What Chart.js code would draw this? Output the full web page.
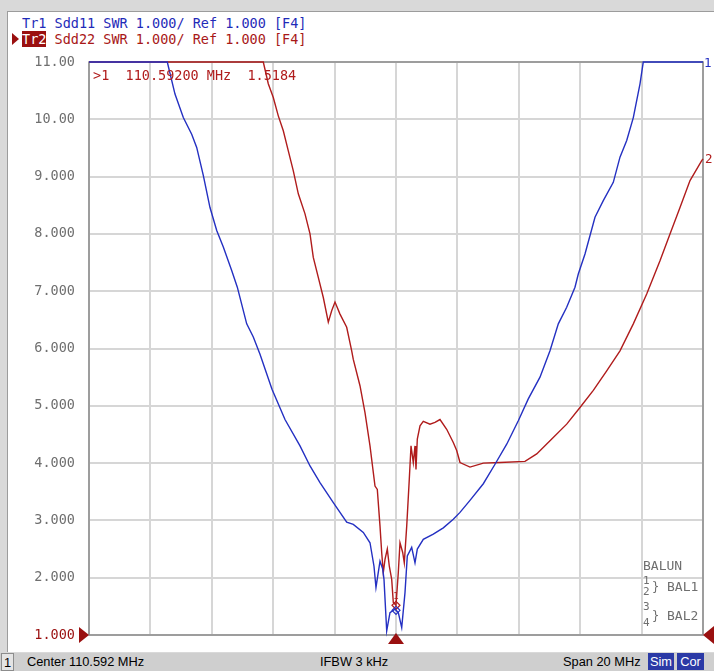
<!DOCTYPE html>
<html>
<head>
<meta charset="utf-8">
<script src="https://cdn.jsdelivr.net/npm/chart.js@4/dist/chart.umd.min.js"></script>
<style>
  html, body { margin: 0; padding: 0; }
  body { width: 714px; height: 671px; background: #d9d9d9; position: relative; overflow: hidden; }
  #panel { position: absolute; left: 7px; top: 11px; width: 707px; height: 641px; background: #ffffff;
           border-left: 1px solid #9c9c9c; border-top: 1px solid #9c9c9c; box-sizing: border-box; }
  #c { position: absolute; left: 0; top: 0; }
  .hdr { position: absolute; font-family: "DejaVu Sans Mono", monospace; font-size: 13.5px;
         line-height: 17px; white-space: pre; }
  #tr1 { left: 22px; top: 15px; color: #1f2bb8; }
  #tr2 { left: 22px; top: 31px; color: #a81818; }
  #tr2 .act { background: #9a1010; color: #ffffff; }
  #tri { position: absolute; left: 12px; top: 33px; width: 0; height: 0;
         border-top: 6.5px solid transparent; border-bottom: 6.5px solid transparent; border-left: 7px solid #9a1010; }
  #status { position: absolute; left: 0; top: 653px; width: 714px; height: 18px; background: #cfcfcf;
            font-family: "Liberation Sans", Arial, sans-serif; font-size: 12.8px; color: #000; }
  #status span { position: absolute; top: 0; line-height: 18px; white-space: pre; }
  #chn { left: 1px; width: 13px; text-align: center; border: 1px solid #8c8c8c; box-sizing: border-box; height: 18px; background: #e4e4e4; }
  .badge { background: #2b3aa6; color: #fff; text-align: center; height: 17px; }
</style>
</head>
<body>
<div id="panel"></div>
<div class="hdr" id="tr1">Tr1 Sdd11 SWR 1.000/ Ref 1.000 [F4]</div>
<div id="tri"></div>
<div class="hdr" id="tr2"><span class="act">Tr2</span> Sdd22 SWR 1.000/ Ref 1.000 [F4]</div>
<canvas id="c" width="714" height="671"></canvas>
<div id="status">
  <span id="chn">1</span>
  <span style="left:27px">Center 110.592 MHz</span>
  <span style="left:320px">IFBW 3 kHz</span>
  <span style="left:563px">Span 20 MHz</span>
  <span class="badge" style="left:648px;width:26px">Sim</span>
  <span class="badge" style="left:677px;width:27px">Cor</span>
</div>
<script>
// Sweep: 110.592 MHz centre, 20 MHz span, 2 MHz per division
const xGridMHz = [100.592, 102.592, 104.592, 106.592, 108.592, 110.592,
                  112.592, 114.592, 116.592, 118.592, 120.592];
const yTickLabels = ['1.000', '2.000', '3.000', '4.000', '5.000', '6.000',
                     '7.000', '8.000', '9.000', '10.00', '11.00'];

// Trace 1: Sdd11 SWR (values above the top of the scale are pinned at 11)
const sdd11Freq = [100.592, 103.142, 103.393, 103.664, 103.937, 104.100, 104.315, 104.533, 104.752, 104.967,
  105.240, 105.423, 105.729, 105.944, 106.162, 106.553, 106.976, 107.465, 107.791, 108.116,
  108.550, 108.986, 109.201, 109.527, 109.745, 109.875, 109.940, 110.071, 110.159, 110.201,
  110.289, 110.396, 110.559, 110.667, 110.778, 110.885, 110.960, 111.103, 111.211, 111.286,
  111.481, 111.807, 112.133, 112.458, 112.677, 113.002, 113.436, 113.817, 114.198, 114.576,
  114.901, 115.282, 115.608, 115.879, 116.152, 116.422, 116.530, 116.748, 117.074, 117.344,
  117.670, 117.888, 118.107, 118.322, 118.540, 118.647, 120.592];
const sdd11Swr = [11.00, 11.00, 10.44, 10.03, 9.74, 9.51, 9.02, 8.46, 8.06, 7.77,
  7.36, 7.07, 6.43, 6.20, 5.90, 5.29, 4.76, 4.30, 3.95, 3.66,
  3.31, 2.97, 2.93, 2.79, 2.61, 2.20, 1.83, 2.29, 2.15, 1.97,
  1.07, 1.39, 1.45, 1.39, 1.13, 1.74, 2.38, 2.53, 2.26, 2.50,
  2.67, 2.76, 2.87, 3.02, 3.14, 3.35, 3.64, 3.98, 4.33, 4.74,
  5.12, 5.50, 5.96, 6.43, 6.72, 7.07, 7.30, 7.65, 8.29, 8.58,
  8.90, 9.34, 9.63, 10.03, 10.62, 11.00, 11.00];

// Trace 2: Sdd22 SWR
const sdd22Freq = [100.592, 106.269, 106.432, 106.595, 106.758, 106.921, 107.084, 107.247, 107.410, 107.628,
  107.791, 107.898, 108.061, 108.224, 108.387, 108.497, 108.605, 108.768, 108.986, 109.149,
  109.201, 109.419, 109.582, 109.745, 109.908, 109.983, 110.071, 110.126, 110.178, 110.234,
  110.309, 110.374, 110.452, 110.504, 110.592, 110.667, 110.722, 110.810, 110.862, 110.941,
  111.025, 111.081, 111.156, 111.211, 111.243, 111.286, 111.374, 111.481, 111.699, 111.862,
  112.025, 112.243, 112.458, 112.569, 112.677, 113.002, 113.436, 113.980, 114.794, 115.175,
  115.608, 116.152, 116.585, 117.019, 117.455, 117.888, 118.322, 118.758, 119.191, 119.517,
  119.843, 120.169, 120.550, 120.592];
const sdd22Swr = [11.00, 11.00, 10.62, 10.38, 10.06, 9.80, 9.45, 9.10, 8.70, 8.35,
  8.00, 7.59, 7.24, 6.89, 6.46, 6.66, 6.81, 6.60, 6.37, 5.96,
  5.81, 5.35, 4.88, 4.30, 3.60, 3.54, 2.90, 2.44, 2.09, 2.32,
  2.50, 2.20, 1.97, 1.57, 1.5184, 2.09, 2.61, 2.44, 2.26, 2.90,
  3.72, 4.30, 4.01, 4.30, 3.89, 4.42, 4.65, 4.73, 4.68, 4.71,
  4.76, 4.59, 4.36, 4.22, 4.01, 3.93, 4.00, 4.01, 4.03, 4.16,
  4.39, 4.68, 4.97, 5.27, 5.61, 5.96, 6.43, 6.95, 7.53, 8.00,
  8.46, 8.93, 9.28, 9.31];

// Marker 1 (shared by both traces)
const markerFreq = 110.592;
const marker1Sdd22 = sdd22Swr[sdd22Freq.indexOf(markerFreq)];
const marker1Sdd11 = 1.43;

const BLUE = '#2430c2';
const RED = '#b01c1c';
const DARKRED = '#9a1010';
const GREY_TXT = '#6f6f6f';
const MONO = '"DejaVu Sans Mono", monospace';

const toXY = (xs, ys) => xs.map((x, i) => ({ x: x, y: ys[i] }));

const overlay = {
  id: 'vnaOverlay',
  beforeDatasetsDraw(chart) {
    const a = chart.chartArea, ctx = chart.ctx;
    ctx.save();
    ctx.strokeStyle = '#8a8a8a';
    ctx.lineWidth = 1.5;
    ctx.strokeRect(a.left, a.top, a.right - a.left, a.bottom - a.top);
    ctx.restore();
  },
  afterDatasetsDraw(chart) {
    const a = chart.chartArea, ctx = chart.ctx;
    const xs = chart.scales.x, ys = chart.scales.y;
    ctx.save();

    // marker readout
    ctx.font = '13.5px ' + MONO;
    ctx.fillStyle = RED;
    ctx.textBaseline = 'alphabetic';
    ctx.textAlign = 'left';
    ctx.fillText('>1  ' + markerFreq.toFixed(5) + ' MHz  ' + marker1Sdd22.toFixed(4), a.left + 4, 80);

    // trace numbers at the right end of each trace
    ctx.font = '12.5px ' + MONO;
    ctx.fillStyle = BLUE;
    ctx.fillText('1', a.right + 1, ys.getPixelForValue(sdd11Swr[sdd11Swr.length - 1]) + 5);
    ctx.fillStyle = RED;
    ctx.fillText('2', a.right + 2, ys.getPixelForValue(sdd22Swr[sdd22Swr.length - 1]) + 4);

    // small marker index
    ctx.font = '9px ' + MONO;
    ctx.fillStyle = RED;
    ctx.textAlign = 'center';
    ctx.fillText('1', xs.getPixelForValue(markerFreq), ys.getPixelForValue(marker1Sdd22) - 6);

    // balun topology note
    ctx.textAlign = 'left';
    ctx.fillStyle = GREY_TXT;
    ctx.font = '13px ' + MONO;
    ctx.fillText('BALUN', 643, 570);
    ctx.fillText('BAL1', 667, 591);
    ctx.fillText('BAL2', 667, 620);
    ctx.font = '11px ' + MONO;
    ctx.fillText('1', 643, 584);
    ctx.fillText('2', 643, 595);
    ctx.fillText('3', 643, 610);
    ctx.fillText('4', 643, 626);
    ctx.font = '12px ' + MONO;
    ctx.fillText('}', 652, 591);
    ctx.fillText('}', 652, 620);

    // reference / stimulus triangles
    ctx.fillStyle = DARKRED;
    const yRef = ys.getPixelForValue(1);
    ctx.beginPath();
    ctx.moveTo(a.left, yRef); ctx.lineTo(a.left - 10, yRef - 8); ctx.lineTo(a.left - 10, yRef + 8);
    ctx.closePath(); ctx.fill();
    ctx.beginPath();
    ctx.moveTo(a.right, yRef); ctx.lineTo(a.right + 11, yRef - 9); ctx.lineTo(a.right + 11, yRef + 9);
    ctx.closePath(); ctx.fill();
    const xm = xs.getPixelForValue(markerFreq);
    ctx.beginPath();
    ctx.moveTo(xm, a.bottom - 2); ctx.lineTo(xm - 8, a.bottom + 9); ctx.lineTo(xm + 8, a.bottom + 9);
    ctx.closePath(); ctx.fill();
    ctx.restore();
  }
};

new Chart(document.getElementById('c'), {
  type: 'line',
  data: {
    datasets: [
      { label: 'Sdd11', data: toXY(sdd11Freq, sdd11Swr), borderColor: BLUE, borderWidth: 1.4,
        pointRadius: 0, tension: 0, clip: 4 },
      { label: 'Sdd22', data: toXY(sdd22Freq, sdd22Swr), borderColor: RED, borderWidth: 1.4,
        pointRadius: 0, tension: 0, clip: 4 },
      { type: 'scatter', label: 'M1 Sdd11', data: [{ x: markerFreq, y: marker1Sdd11 }], borderColor: BLUE,
        backgroundColor: 'rgba(0,0,0,0)', pointStyle: 'rectRot', pointRadius: 4, borderWidth: 1.2 },
      { type: 'scatter', label: 'M1 Sdd22', data: [{ x: markerFreq, y: marker1Sdd22 }], borderColor: RED,
        backgroundColor: 'rgba(0,0,0,0)', pointStyle: 'rectRot', pointRadius: 4, borderWidth: 1.2 }
    ]
  },
  options: {
    responsive: false,
    animation: false,
    devicePixelRatio: 1,
    layout: { padding: { left: 0, top: 62, right: 11, bottom: 36 } },
    plugins: { legend: { display: false }, tooltip: { enabled: false } },
    scales: {
      x: {
        type: 'linear', min: xGridMHz[0], max: xGridMHz[xGridMHz.length - 1],
        afterBuildTicks: (s) => { s.ticks = xGridMHz.map(v => ({ value: v })); },
        afterFit: (s) => { s.height = 0; },
        ticks: { display: false },
        grid: { color: '#d6d6d6', lineWidth: 2, drawTicks: false },
        border: { display: false }
      },
      y: {
        type: 'linear', min: 1, max: 11,
        afterFit: (s) => { s.width = 89; },
        ticks: {
          stepSize: 1, padding: 14,
          font: { family: MONO, size: 13.5 },
          color: (c) => (c.tick && c.tick.value === 1 ? DARKRED : GREY_TXT),
          callback: (v) => yTickLabels[Math.round(v) - 1]
        },
        grid: { color: '#d6d6d6', lineWidth: 2, drawTicks: false },
        border: { display: false }
      }
    }
  },
  plugins: [overlay]
});
</script>
</body>
</html>
